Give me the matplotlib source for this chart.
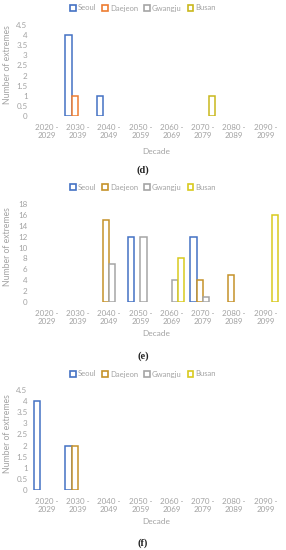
import matplotlib
matplotlib.use("Agg")
import matplotlib.pyplot as plt
from matplotlib.patches import Patch
import numpy as np

plt.rcParams['font.family'] = ['Lato', 'DejaVu Sans']

decades = ["2020 -\n2029", "2030 -\n2039", "2040 -\n2049", "2050 -\n2059",
           "2060 -\n2069", "2070 -\n2079", "2080 -\n2089", "2090 -\n2099"]
cities = ["Seoul", "Daejeon", "Gwangju", "Busan"]

# panel (d)
d_seoul   = [0, 4, 1, 0, 0, 0, 0, 0]
d_daejeon = [0, 1, 0, 0, 0, 0, 0, 0]
d_gwangju = [0, 0, 0, 0, 0, 0, 0, 0]
d_busan   = [0, 0, 0, 0, 0, 1, 0, 0]
# panel (e)
e_seoul   = [0, 0, 0, 12, 0, 12, 0, 0]
e_daejeon = [0, 0, 15, 0, 0, 4, 5, 0]
e_gwangju = [0, 0, 7, 12, 4, 1, 0, 0]
e_busan   = [0, 0, 0, 0, 8, 0, 0, 16]
# panel (f)
f_seoul   = [4, 2, 0, 0, 0, 0, 0, 0]
f_daejeon = [0, 2, 0, 0, 0, 0, 0, 0]
f_gwangju = [0, 0, 0, 0, 0, 0, 0, 0]
f_busan   = [0, 0, 0, 0, 0, 0, 0, 0]

d_ticks = [0, 0.5, 1, 1.5, 2, 2.5, 3, 3.5, 4, 4.5]
e_ticks = [0, 2, 4, 6, 8, 10, 12, 14, 16, 18]
f_ticks = [0, 0.5, 1, 1.5, 2, 2.5, 3, 3.5, 4, 4.5]

W, H = 286, 550
fig = plt.figure(figsize=(W / 100, H / 100), dpi=100)
fig.patch.set_facecolor("white")

TXT = "#a3a3a3"
FS_TICK = 5.8
FS_LEG = 5.5
FS_YLAB = 6.2
FS_XLAB = 6.0

panels = [
    dict(data=[d_seoul, d_daejeon, d_gwangju, d_busan], ticks=d_ticks,
         colors=["#4472C4", "#ED7D31", "#A5A5A5", "#C9B81C"],
         top=25, bottom=116, legend=8, decade=152, cap=170, label="(d)"),
    dict(data=[e_seoul, e_daejeon, e_gwangju, e_busan], ticks=e_ticks,
         colors=["#4472C4", "#C5922A", "#A5A5A5", "#D8CA1E"],
         top=204, bottom=302, legend=187, decade=334, cap=356, label="(e)"),
    dict(data=[f_seoul, f_daejeon, f_gwangju, f_busan], ticks=f_ticks,
         colors=["#4472C4", "#C5922A", "#A5A5A5", "#D8CA1E"],
         top=390, bottom=490, legend=374, decade=521, cap=543, label="(f)"),
]

left_px, right_px = 31, 281
x = np.arange(len(decades))
width = 0.2
offsets = [-0.3, -0.1, 0.1, 0.3]

for p in panels:
    ax = fig.add_axes([left_px / W, 1 - p["bottom"] / H,
                       (right_px - left_px) / W, (p["bottom"] - p["top"]) / H])
    for vals, off, col in zip(p["data"], offsets, p["colors"]):
        v = np.asarray(vals, dtype=float)
        m = v > 0
        if m.any():
            ax.bar(x[m] + off, v[m], width=width, facecolor="white",
                   edgecolor=col, linewidth=1.1)
    ax.set_xlim(-0.5, len(decades) - 0.5)
    ax.set_ylim(0, p["ticks"][-1])
    ax.set_yticks(p["ticks"])
    ax.set_yticklabels([("%g" % t) for t in p["ticks"]])
    ax.set_xticks(x)
    ax.set_xticklabels(decades, linespacing=1.25)
    for s in ax.spines.values():
        s.set_visible(False)
    ax.tick_params(axis="both", length=0, labelsize=FS_TICK, labelcolor=TXT)
    ax.tick_params(axis="x", pad=5.5)
    ax.tick_params(axis="y", pad=2.5)

    handles = [Patch(facecolor="white", edgecolor=c, linewidth=1.2, label=n)
               for c, n in zip(p["colors"], cities)]
    fig.legend(handles=handles, loc="center", ncol=4,
               bbox_to_anchor=(143 / W, 1 - p["legend"] / H),
               frameon=False, fontsize=FS_LEG, labelcolor=TXT,
               handlelength=0.75, handleheight=0.75, handletextpad=0.25,
               columnspacing=0.8, borderaxespad=0, borderpad=0)

    fig.text(156 / W, 1 - p["decade"] / H, "Decade", ha="center", va="center",
             fontsize=FS_XLAB, color=TXT)
    fig.text(7.5 / W, 1 - ((p["top"] + p["bottom"]) / 2 - 6) / H,
             "Number of extremes", rotation=90, ha="center", va="center",
             fontsize=FS_YLAB, color=TXT)
    fig.text(143 / W, 1 - p["cap"] / H, p["label"], ha="center", va="center",
             fontsize=7.5, fontweight="bold", family="Liberation Serif",
             color="#222222")

fig.savefig("out.png", dpi=100, facecolor="white")
